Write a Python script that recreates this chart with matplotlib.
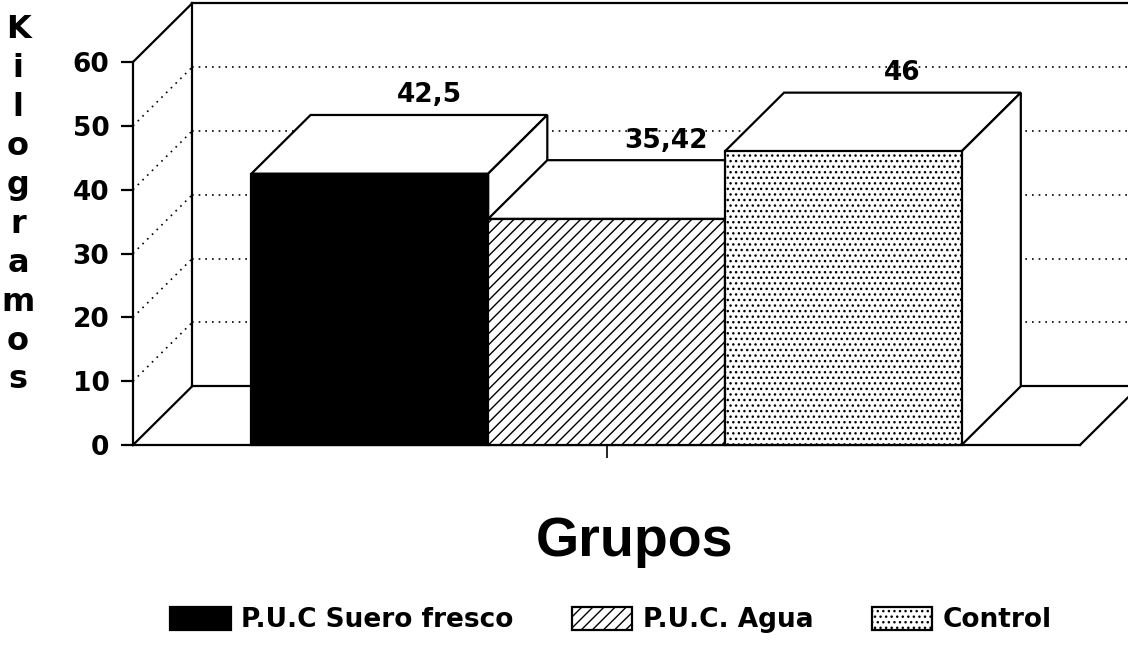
import matplotlib
matplotlib.use("Agg")
import matplotlib.pyplot as plt
from matplotlib.patches import Polygon

groups = ["P.U.C Suero fresco", "P.U.C. Agua", "Control"]
kilos = [42.5, 35.42, 46]
yticks = [0, 10, 20, 30, 40, 50, 60]

# oblique 3d look: depth offset of the back wall in data units
dx, dz = 0.25, 9.2
x0, x1 = -1, 3

plt.rcParams['font.family'] = ['DejaVu Sans']
plt.rcParams['font.weight'] = 'bold'
plt.rcParams['hatch.linewidth'] = 1.0

fig = plt.figure(figsize=(11.28, 6.48), dpi=100)
ax = fig.add_axes([133/1128, 203/648, 947/1128, 383/648])
ax.set_xlim(x0, x1)
ax.set_ylim(0, 60)

lw = 1.6
dot = (0, (1, 3))

# left side wall and back wall
ax.plot([x0, x0 + dx], [0, dz], color='k', lw=lw, clip_on=False, zorder=1)
ax.plot([x0, x0 + dx], [60, 60 + dz], color='k', lw=lw, clip_on=False, zorder=1)
ax.plot([x0 + dx, x0 + dx], [dz, 60 + dz], color='k', lw=lw, clip_on=False, zorder=1)
ax.plot([x0 + dx, x1 + dx], [60 + dz, 60 + dz], color='k', lw=lw, clip_on=False, zorder=1)
ax.plot([x0 + dx, x1 + dx], [dz, dz], color='k', lw=lw, clip_on=False, zorder=1)
ax.plot([x1, x1 + dx], [0, dz], color='k', lw=lw, clip_on=False, zorder=1)
for v in yticks[1:-1]:
    ax.plot([x0, x0 + dx], [v, v + dz], color='k', lw=1.2, ls=dot, clip_on=False, zorder=1)
    ax.plot([x0 + dx, x1 + dx], [v + dz, v + dz], color='k', lw=1.2, ls=dot, clip_on=False, zorder=1)

colors = ['black', 'white', 'white']
hatches = [None, '///', '...']
xs = list(range(len(kilos)))
for i, (x, v) in enumerate(zip(xs, kilos)):
    z = 3 + 2 * i
    ax.bar(x, v, width=1, color=colors[i], hatch=hatches[i], edgecolor='k',
           lw=lw, label=groups[i], zorder=z + 1, clip_on=False)
    top = [(x - 0.5, v), (x + 0.5, v), (x + 0.5 + dx, v + dz), (x - 0.5 + dx, v + dz)]
    side = [(x + 0.5, 0), (x + 0.5 + dx, dz), (x + 0.5 + dx, v + dz), (x + 0.5, v)]
    ax.add_patch(Polygon(top, closed=True, fc='white', ec='k', lw=lw, zorder=z, clip_on=False))
    ax.add_patch(Polygon(side, closed=True, fc='white', ec='k', lw=lw, zorder=z, clip_on=False))
    ax.annotate(f"{v:g}".replace('.', ','), xy=(x + dx, v + dz), xytext=(0, 9),
                textcoords='offset points', ha='center', va='baseline',
                fontsize=19, fontweight='bold', zorder=20)

ax.spines['top'].set_visible(False)
ax.spines['right'].set_visible(False)
ax.spines['left'].set_linewidth(lw)
ax.spines['bottom'].set_linewidth(lw)
ax.set_yticks(yticks)
ax.set_yticklabels([str(t) for t in yticks], fontsize=19, fontweight='bold')
ax.tick_params(axis='y', length=9, width=lw, pad=8)
ax.set_xticks([1])
ax.set_xticklabels([''])
ax.tick_params(axis='x', length=9, width=1.2)
ax.patch.set_visible(False)

ax.set_ylabel("\n".join("Kilogramos"), rotation=0, fontsize=23, fontweight='bold',
              ha='center', va='center', linespacing=1.33, multialignment='center')
ax.yaxis.set_label_coords(-0.1214, 0.627)
ax.set_xlabel("Grupos", fontsize=40, fontweight='bold', family='Liberation Sans',
              va='center')
ax.xaxis.set_label_coords(0.53, -0.253)

ax.legend(loc='center', bbox_to_anchor=(611/1128, 0.043), bbox_transform=fig.transFigure,
          ncol=3, frameon=False, fontsize=19, handlelength=2.3, handleheight=0.95,
          handletextpad=0.4, columnspacing=2.2, borderpad=0)

fig.savefig("out.png", dpi=100)
